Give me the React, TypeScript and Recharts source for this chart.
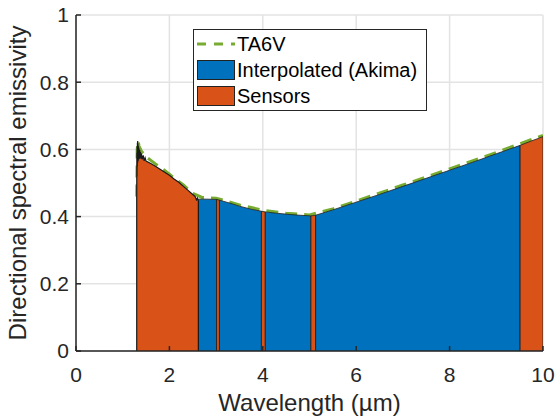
import { ComposedChart, Area, Line, XAxis, YAxis, CartesianGrid } from "recharts";

const FONT = "'Liberation Sans', Arial, sans-serif";
const AXIS = "#262626";
const BLUE = "#0072BD";
const ORANGE = "#D95319";
const GREEN = "#77AC30";

const xTicks = [0, 2, 4, 6, 8, 10];
const yTicks = [0, 0.2, 0.4, 0.6, 0.8, 1];

// reference curve
const ta6vWl = [1.3, 1.31, 1.33, 1.35, 1.4, 1.5, 1.7, 1.9, 2.1, 2.3, 2.5, 2.7, 3.0, 3.5, 4.0, 4.5, 5.0, 5.5, 6, 7, 8, 9, 10];
const ta6vEm = [0.46, 0.6, 0.625, 0.61, 0.595, 0.578, 0.557, 0.537, 0.515, 0.494, 0.469, 0.457, 0.455, 0.435, 0.419, 0.41, 0.405, 0.423, 0.446, 0.494, 0.542, 0.591, 0.642];

// measured bands (sensors)
const sensorWl = [
  [1.3, 1.303, 1.306, 1.309, 1.312, 1.315, 1.318, 1.321, 1.324, 1.327, 1.33, 1.335, 1.34, 1.345, 1.35, 1.355, 1.36, 1.365, 1.37, 1.38, 1.39, 1.4, 1.42, 1.44, 1.46, 1.48, 1.5, 1.6, 1.7, 1.8, 1.9, 2.0, 2.1, 2.2, 2.3, 2.4, 2.5, 2.55, 2.58, 2.6, 2.62],
  [3.01, 3.07],
  [3.97, 4.05],
  [5.03, 5.13],
  [9.51, 9.75, 10],
];
const sensorEm = [
  [0.46, 0.59, 0.52, 0.61, 0.55, 0.62, 0.56, 0.625, 0.57, 0.615, 0.565, 0.61, 0.57, 0.605, 0.575, 0.6, 0.572, 0.598, 0.575, 0.592, 0.572, 0.588, 0.57, 0.582, 0.566, 0.575, 0.565, 0.558, 0.55, 0.541, 0.532, 0.523, 0.512, 0.502, 0.49, 0.478, 0.466, 0.46, 0.45, 0.455, 0.446],
  [0.451, 0.449],
  [0.416, 0.414],
  [0.402, 0.404],
  [0.612, 0.625, 0.638],
];

// Akima-interpolated gaps
const interpWl = [
  [2.62, 2.8, 3.01],
  [3.07, 3.3, 3.5, 3.75, 3.97],
  [4.05, 4.3, 4.6, 4.8, 5.03],
  [5.13, 5.5, 6, 6.5, 7, 7.5, 8, 8.5, 9, 9.51],
];
const interpEm = [
  [0.452, 0.452, 0.451],
  [0.449, 0.44, 0.431, 0.422, 0.416],
  [0.414, 0.41, 0.406, 0.404, 0.402],
  [0.404, 0.42, 0.443, 0.466, 0.49, 0.514, 0.538, 0.562, 0.587, 0.612],
];

const legendItems = [
  { label: "TA6V", kind: "line", color: GREEN },
  { label: "Interpolated (Akima)", kind: "patch", color: BLUE },
  { label: "Sensors", kind: "patch", color: ORANGE },
];

type Row = { x: number; [k: string]: number };
const rows: Row[] = [];
ta6vWl.forEach((w, i) => rows.push({ x: w, ta6v: ta6vEm[i] }));
function pushBand(key: string, wl: number[], em: number[]) {
  rows.push({ x: wl[0], [key]: 0 });
  wl.forEach((w, i) => rows.push({ x: w, [key]: em[i] }));
  rows.push({ x: wl[wl.length - 1], [key]: 0 });
}
const sensorKeys = sensorWl.map((wl, i) => {
  pushBand("s" + i, wl, sensorEm[i]);
  return "s" + i;
});
const interpKeys = interpWl.map((wl, i) => {
  pushBand("i" + i, wl, interpEm[i]);
  return "i" + i;
});

function LegendBox() {
  return (
    <div
      style={{
        position: "absolute",
        left: 193,
        top: 29,
        width: 234,
        height: 82,
        boxSizing: "border-box",
        border: `1.5px solid ${AXIS}`,
        background: "#fff",
        fontFamily: FONT,
        fontSize: 20,
        color: "#000",
        paddingTop: 1,
      }}
    >
      {legendItems.map((it) => (
        <div key={it.label} style={{ display: "flex", alignItems: "center", height: 26 }}>
          <svg width={44} height={24} style={{ marginLeft: 1 }}>
            {it.kind === "line" ? (
              <line x1={2} x2={40} y1={12} y2={12} stroke={it.color} strokeWidth={3} strokeDasharray="9 8" />
            ) : (
              <rect x={2.5} y={2.5} width={37} height={19} fill={it.color} stroke="#222" strokeWidth={1} />
            )}
          </svg>
          <span style={{ marginLeft: -2, lineHeight: "24px" }}>{it.label}</span>
        </div>
      ))}
    </div>
  );
}

export default function App() {
  const tickStyle = { fill: AXIS, fontSize: 21, fontFamily: FONT };
  return (
    <div style={{ position: "relative", width: 556, height: 417, background: "#fff" }}>
      <style>{`body{margin:0}`}</style>
      <ComposedChart width={556} height={417} data={rows} margin={{ top: 15, right: 13, left: 0, bottom: 0 }}>
        <CartesianGrid stroke="#e3e3e3" strokeWidth={1.5} />
        <XAxis
          dataKey="x"
          type="number"
          domain={[0, 10]}
          ticks={xTicks}
          allowDataOverflow
          height={66}
          tickSize={-5}
          tickMargin={21}
          tick={tickStyle}
          stroke={AXIS}
          strokeWidth={1.5}
          label={(p: any) => (
            <text
              x={p.viewBox.x + p.viewBox.width / 2}
              y={p.viewBox.y + 52}
              dy="0.35em"
              textAnchor="middle"
              fill={AXIS}
              fontSize={24}
              fontFamily={FONT}
            >
              Wavelength (µm)
            </text>
          )}
        />
        <XAxis xAxisId="top" orientation="top" type="number" domain={[0, 10]} height={0} tick={false} tickLine={false} stroke={AXIS} strokeWidth={1.5} />
        <YAxis
          type="number"
          domain={[0, 1]}
          ticks={yTicks}
          width={76}
          tickSize={-5}
          tickMargin={12}
          tick={tickStyle}
          stroke={AXIS}
          strokeWidth={1.5}
          label={(p: any) => {
            const cx = p.viewBox.x + 18;
            const cy = p.viewBox.y + p.viewBox.height / 2;
            return (
              <text
                x={cx}
                y={cy}
                dy="0.35em"
                transform={`rotate(-90 ${cx} ${cy})`}
                textAnchor="middle"
                fill={AXIS}
                fontSize={24}
                fontFamily={FONT}
              >
                Directional spectral emissivity
              </text>
            );
          }}
        />
        <YAxis yAxisId="right" orientation="right" type="number" domain={[0, 1]} width={0} tick={false} tickLine={false} stroke={AXIS} strokeWidth={1.5} />
        <Line
          dataKey="ta6v"
          stroke={GREEN}
          strokeWidth={3}
          strokeDasharray="12 7"
          dot={false}
          activeDot={false}
          isAnimationActive={false}
          zIndex={50}
        />
        {interpKeys.map((k) => (
          <Area
            key={k}
            dataKey={k}
            type="linear"
            fill={BLUE}
            fillOpacity={1}
            stroke="#1e1e1e"
            strokeWidth={0.8}
            dot={false}
            activeDot={false}
            isAnimationActive={false}
          />
        ))}
        {sensorKeys.map((k, i) => (
          <Area
            key={k}
            dataKey={k}
            type="linear"
            fill={ORANGE}
            fillOpacity={1}
            stroke="#1a1a1a"
            strokeWidth={i === 0 ? 1.2 : 0.8}
            dot={false}
            activeDot={false}
            isAnimationActive={false}
          />
        ))}
      </ComposedChart>
      <LegendBox />
    </div>
  );
}
